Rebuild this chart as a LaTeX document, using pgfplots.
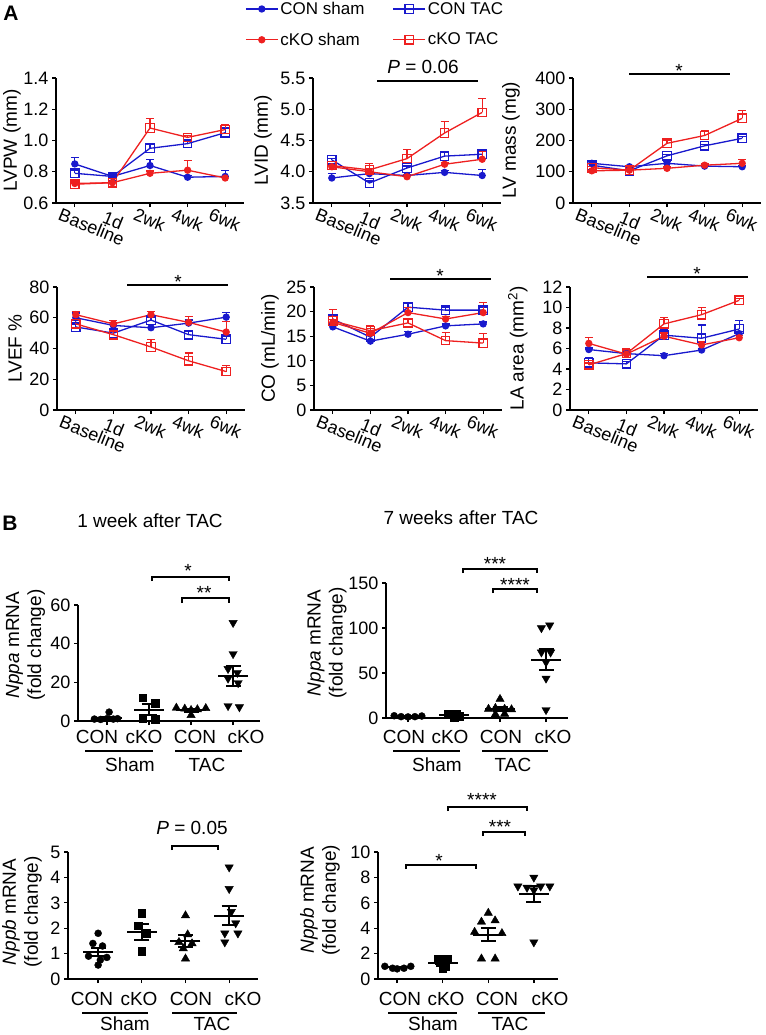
\documentclass[border=0pt]{standalone}
\usepackage{fontspec}
\setmainfont{Liberation Sans}
\usepackage{pgfplots}
\pgfplotsset{compat=1.18}
\definecolor{blueA}{RGB}{25,25,205}
\definecolor{redA}{RGB}{238,32,32}
\newcommand\fsA{\fontsize{17}{20}\selectfont}
\newcommand\fsT{\fontsize{18}{21}\selectfont}
\newcommand\fsB{\fontsize{19}{22}\selectfont}

\pgfplotsset{
  base/.style={scale only axis, axis x line*=bottom, axis y line*=left,
    axis line style={-, line width=1.3pt}, tick align=outside,
    major tick length=4pt, tick style={black, line width=1.3pt},
    clip=false, /pgf/number format/assume math mode=true,
    xticklabel style={font=\fsT}, yticklabel style={font=\fsT},
    ylabel style={font=\fsB, align=center, anchor=center}},
  pA/.style={base, width=188pt, xmin=-0.5, xmax=4.5, xtick={0,1,2,3,4},
    xticklabels={Baseline,\hspace*{7pt}1d,2wk,4wk,6wk},
    xticklabel style={rotate=-22, anchor=north west, xshift=-15pt, yshift=-2pt}},
  errA/.style={error bars/y dir=plus, error bars/y explicit, error bars/error mark=-,
    error bars/error bar style={line width=1.3pt},
    error bars/error mark options={rotate=90, mark size=4pt, line width=1.3pt}},
  sCS/.style={blueA, line width=1.3pt, mark=*, mark size=3pt, mark options={solid, fill=blueA}, errA},
  sCT/.style={blueA, line width=1.3pt, mark=square, mark size=4.2pt, mark options={solid, fill=white}, errA},
  sKS/.style={redA, line width=1.3pt, mark=*, mark size=3pt, mark options={solid, fill=redA}, errA},
  sKT/.style={redA, line width=1.3pt, mark=square, mark size=4.2pt, mark options={solid, fill=white}, errA},
  pB/.style={base, xtick={0,1,2,3}, xticklabels={}, ymin=0},
  pC/.style={black, only marks, mark=*, mark size=3.5pt},
  pS/.style={black, only marks, mark=square*, mark size=3.8pt},
  pU/.style={black, only marks, mark=triangle*, mark size=4.8pt},
  pD/.style={black, only marks, mark=triangle*, mark size=4.8pt, mark options={rotate=180}},
  meanB/.style={black, only marks, mark=-, mark size=15pt, mark options={line width=2pt},
    error bars/y dir=both, error bars/y explicit, error bars/error mark=-,
    error bars/error bar style={line width=2pt, black},
    error bars/error mark options={rotate=90, mark size=7.5pt, line width=2pt, black}},
}

\begin{document}
\begin{tikzpicture}
\path[use as bounding box] (0,0) rectangle (765pt,-1035pt);

% ---------- Panel A, row 1 ----------
\begin{axis}[pA, at={(56pt,-203pt)}, anchor=south west, height=125pt,
  ymin=0.6, ymax=1.4, ytick={0.6,0.8,1.0,1.2,1.4}, yticklabels={0.6,0.8,1.0,1.2,1.4},
  ylabel={LVPW (mm)}, ylabel style={at={(axis description cs:-0.234,0.5)}}]
\addplot[sCS] coordinates {(0,0.85) +- (0,0.04) (1,0.77) +- (0,0.01) (2,0.84) +- (0,0.04) (3,0.765) +- (0,0.01) (4,0.77) +- (0,0.04)};
\addplot[sCT] coordinates {(0,0.79) +- (0,0.02) (1,0.77) +- (0,0.02) (2,0.95) +- (0,0.03) (3,0.98) +- (0,0.02) (4,1.05) +- (0,0.03)};
\addplot[sKS] coordinates {(0,0.725) +- (0,0.01) (1,0.73) +- (0,0.01) (2,0.79) +- (0,0.015) (3,0.81) +- (0,0.06) (4,0.76) +- (0,0.01)};
\addplot[sKT] coordinates {(0,0.72) +- (0,0.01) (1,0.73) +- (0,0.01) (2,1.08) +- (0,0.06) (3,1.02) +- (0,0.01) (4,1.07) +- (0,0.03)};
\end{axis}

\begin{axis}[pA, at={(313pt,-203pt)}, anchor=south west, height=125pt,
  ymin=3.5, ymax=5.5, ytick={3.5,4.0,4.5,5.0,5.5}, yticklabels={3.5,4.0,4.5,5.0,5.5},
  ylabel={LVID (mm)}, ylabel style={at={(axis description cs:-0.266,0.5)}},
  legend columns=2, legend cell align=left,
  legend style={at={(axis description cs:-0.362,1.625)}, anchor=north west, draw=none, fill=none,
    inner sep=0pt, row sep=13pt, /tikz/every even column/.append style={column sep=26pt}},
  legend image code/.code={\draw[mark repeat=2,mark phase=2] plot coordinates {(0pt,0pt) (16pt,0pt) (32pt,0pt)};}]
\addplot[sCS] coordinates {(0,3.9) +- (0,0.07) (1,3.97) +- (0,0.03) (2,3.94) +- (0,0.02) (3,3.99) +- (0,0.03) (4,3.94) +- (0,0.1)};
\addlegendentry{\fsA CON sham}
\addplot[sCT] coordinates {(0,4.19) +- (0,0.02) (1,3.82) +- (0,0.03) (2,4.06) +- (0,0.03) (3,4.25) +- (0,0.07) (4,4.28) +- (0,0.07)};
\addlegendentry{\fsA CON TAC}
\addplot[sKS] coordinates {(0,4.08) +- (0,0.03) (1,4.0) +- (0,0.05) (2,3.92) +- (0,0.03) (3,4.12) +- (0,0.03) (4,4.2) +- (0,0.12)};
\addlegendentry{\fsA cKO sham}
\addplot[sKT] coordinates {(0,4.1) +- (0,0.03) (1,4.03) +- (0,0.1) (2,4.21) +- (0,0.15) (3,4.62) +- (0,0.18) (4,4.95) +- (0,0.22)};
\addlegendentry{\fsA cKO TAC}
\end{axis}

\begin{axis}[pA, at={(573pt,-203pt)}, anchor=south west, height=125pt,
  ymin=0, ymax=400, ytick={0,100,200,300,400},
  ylabel={LV mass (mg)}, ylabel style={at={(axis description cs:-0.33,0.5)}}]
\addplot[sCS] coordinates {(0,127) +- (0,5) (1,116) +- (0,4) (2,127) +- (0,6) (3,118) +- (0,4) (4,116) +- (0,5)};
\addplot[sCT] coordinates {(0,121) +- (0,5) (1,103) +- (0,4) (2,151) +- (0,5) (3,183) +- (0,5) (4,207) +- (0,6)};
\addplot[sKS] coordinates {(0,103) +- (0,4) (1,105) +- (0,3) (2,111) +- (0,4) (3,121) +- (0,4) (4,127) +- (0,12)};
\addplot[sKT] coordinates {(0,113) +- (0,4) (1,105) +- (0,4) (2,191) +- (0,9) (3,216) +- (0,17) (4,271) +- (0,25)};
\end{axis}

% ---------- Panel A, row 2 ----------
\begin{axis}[pA, at={(57pt,-410pt)}, anchor=south west, height=123pt,
  ymin=0, ymax=80, ytick={0,20,40,60,80},
  ylabel={LVEF \%}, ylabel style={at={(axis description cs:-0.223,0.5)}}]
\addplot[sCS] coordinates {(0,60) +- (0,3) (1,55) +- (0,2) (2,53.5) +- (0,2) (3,56.5) +- (0,2) (4,60.4) +- (0,3)};
\addplot[sCT] coordinates {(0,54) +- (0,2) (1,50) +- (0,2) (2,58.5) +- (0,2) (3,49) +- (0,2) (4,46) +- (0,2)};
\addplot[sKS] coordinates {(0,62) +- (0,2) (1,56) +- (0,2) (2,62) +- (0,2) (3,57) +- (0,4) (4,50.7) +- (0,7)};
\addplot[sKT] coordinates {(0,56) +- (0,2) (1,49) +- (0,2) (2,41) +- (0,5) (3,32) +- (0,5) (4,25) +- (0,4)};
\end{axis}

\begin{axis}[pA, at={(314pt,-410pt)}, anchor=south west, height=123pt,
  ymin=0, ymax=25, ytick={0,5,10,15,20,25},
  ylabel={CO (mL/min)}, ylabel style={at={(axis description cs:-0.234,0.5)}}]
\addplot[sCS] coordinates {(0,16.9) +- (0,0.4) (1,14.0) +- (0,0.3) (2,15.4) +- (0,0.5) (3,17.1) +- (0,0.4) (4,17.5) +- (0,0.4)};
\addplot[sCT] coordinates {(0,18.5) +- (0,0.8) (1,14.8) +- (0,0.5) (2,20.9) +- (0,1.0) (3,20.3) +- (0,0.6) (4,20.3) +- (0,0.5)};
\addplot[sKS] coordinates {(0,17.8) +- (0,0.6) (1,15.6) +- (0,1.0) (2,19.8) +- (0,1.0) (3,18.5) +- (0,0.5) (4,19.8) +- (0,2.0)};
\addplot[sKT] coordinates {(0,18.1) +- (0,2.3) (1,16.1) +- (0,1.0) (2,17.7) +- (0,0.8) (3,14.1) +- (0,1.6) (4,13.6) +- (0,2.0)};
\end{axis}

\begin{axis}[pA, at={(570pt,-410pt)}, anchor=south west, height=123pt,
  ymin=0, ymax=12, ytick={0,2,4,6,8,10,12},
  ylabel={LA area (mm\textsuperscript{2})}, ylabel style={at={(axis description cs:-0.277,0.5)}}]
\addplot[sCS] coordinates {(0,5.9) +- (0,0.15) (1,5.5) +- (0,0.15) (2,5.3) +- (0,0.2) (3,5.85) +- (0,0.15) (4,7.45) +- (0,0.2)};
\addplot[sCT] coordinates {(0,4.6) +- (0,0.55) (1,4.5) +- (0,0.2) (2,7.3) +- (0,0.6) (3,7.0) +- (0,1.3) (4,7.9) +- (0,0.8)};
\addplot[sKS] coordinates {(0,6.5) +- (0,0.6) (1,5.45) +- (0,0.4) (2,7.2) +- (0,0.3) (3,6.35) +- (0,0.3) (4,7.05) +- (0,0.2)};
\addplot[sKT] coordinates {(0,4.4) +- (0,0.2) (1,5.5) +- (0,0.5) (2,8.4) +- (0,0.6) (3,9.3) +- (0,0.7) (4,10.7) +- (0,0.2)};
\end{axis}

% ---------- Panel B ----------
\begin{axis}[pB, at={(78pt,-721pt)}, anchor=south west, width=182pt, height=116pt,
  xmin=-0.69, xmax=3.64, ymax=60, ytick={0,20,40,60},
  ylabel={\textit{Nppa} mRNA\\(fold change)}, ylabel style={at={(axis description cs:-0.288,0.655)}}]
\addplot[pC] coordinates {(-0.3,1.0) (-0.15,0.8) (0,1.2) (0.15,1.0) (0.25,1.2) (0.05,4.6)};
\addplot[pS] coordinates {(0.85,12) (1.15,9.3) (0.85,1.5) (1.15,1.0)};
\addplot[pU] coordinates {(1.65,6.8) (1.85,6.3) (2,5.6) (2.15,6.0) (2.35,6.6) (2,3.0)};
\addplot[pD] coordinates {(3,50.8) (3,34.7) (2.88,27) (3.1,25) (2.88,22) (3.12,19.7) (2.88,7.8) (3.15,7.2)};
\addplot[meanB] coordinates {(0,1.6) +- (0,0.6) (1,5.9) +- (0,2.7) (2,5.5) +- (0,0.6) (3,23.2) +- (0,5)};
\end{axis}

\begin{axis}[pB, at={(386pt,-718pt)}, anchor=south west, width=182pt, height=135pt,
  xmin=-0.478, xmax=3.478, ymax=150, ytick={0,50,100,150},
  ylabel={\textit{Nppa} mRNA\\(fold change)}, ylabel style={at={(axis description cs:-0.324,0.556)}}]
\addplot[pC] coordinates {(-0.3,2.5) (-0.15,1.5) (0,1.2) (0.15,1.5) (0.3,2.2)};
\addplot[pS] coordinates {(0.88,4.5) (1.05,5) (1.12,2) (1,0.8)};
\addplot[pU] coordinates {(2,21) (1.75,10) (1.9,11) (2.1,10) (2.25,9.5) (1.9,4) (2.1,4.5)};
\addplot[pD] coordinates {(2.9,100) (3.08,103) (2.9,73) (3.1,73) (3,62) (3,44) (3,9)};
\addplot[meanB] coordinates {(0,1.8) +- (0,0.25) (1,3.1) +- (0,1.0) (2,10) +- (0,2) (3,65) +- (0,12)};
\end{axis}

\begin{axis}[pB, at={(68pt,-979pt)}, anchor=south west, width=190pt, height=127pt,
  xmin=-0.69, xmax=3.66, ymax=5, ytick={0,1,2,3,4,5},
  ylabel={\textit{Nppb} mRNA\\(fold change)}, ylabel style={at={(axis description cs:-0.242,0.528)}}]
\addplot[pC] coordinates {(0,1.8) (-0.12,1.4) (0.1,1.3) (-0.22,0.9) (0.2,0.85) (0.05,0.75) (0,0.55)};
\addplot[pS] coordinates {(1,2.6) (0.92,2.1) (1.1,1.8) (1,1.1)};
\addplot[pU] coordinates {(2,2.5) (2.05,1.75) (1.85,1.45) (2.15,1.4) (1.95,1.2) (2,0.8)};
\addplot[pD] coordinates {(3,4.4) (3,3.55) (3.05,2.65) (3.15,2.2) (2.9,1.8) (3.2,1.8) (2.9,1.45)};
\addplot[meanB] coordinates {(0,1.08) +- (0,0.16) (1,1.85) +- (0,0.3) (2,1.5) +- (0,0.22) (3,2.5) +- (0,0.38)};
\end{axis}

\begin{axis}[pB, at={(378pt,-979pt)}, anchor=south west, width=180pt, height=127pt,
  xmin=-0.42, xmax=3.53, ymax=10, ytick={0,2,4,6,8,10},
  ylabel={\textit{Nppb} mRNA\\(fold change)}, ylabel style={at={(axis description cs:-0.322,0.62)}}]
\addplot[pC] coordinates {(-0.27,1.0) (-0.1,0.85) (0,0.8) (0.15,0.85) (0.3,1.0)};
\addplot[pS] coordinates {(0.9,1.6) (1.1,1.6) (0.95,1.3) (1.05,1.0) (1,0.8)};
\addplot[pU] coordinates {(2,5.2) (1.85,4.5) (2.15,4.6) (1.7,3.7) (2.3,3.6) (1.85,1.6) (2.15,1.6)};
\addplot[pD] coordinates {(3,8.0) (2.65,7.3) (2.85,7.2) (3.15,7.3) (3.35,7.3) (3,7.0) (3,2.9)};
\addplot[meanB] coordinates {(0,0.92) +- (0,0.05) (1,1.3) +- (0,0.15) (2,3.5) +- (0,0.5) (3,6.7) +- (0,0.65)};
\end{axis}

% ---------- annotations ----------
\begin{scope}[x=1pt, y=-1pt, font=\fsB, line width=1.3pt]
\node[font=\bfseries\fontsize{21}{24}\selectfont] at (11,13) {A};
\node[font=\bfseries\fontsize{21}{24}\selectfont] at (10,523) {B};
% significance bars, panel A
\draw[line width=2pt] (377,81) -- (478,81);
\node at (423,67) {\textit{P} = 0.06};
\draw[line width=2pt] (629,74) -- (730,74);
\node at (679,71) {*};
\draw[line width=2pt] (127,285) -- (228,285);
\node at (178,282) {*};
\draw[line width=2pt] (390,279) -- (491,279);
\node at (440,276) {*};
\draw[line width=2pt] (647,277) -- (748,277);
\node at (697,274) {*};
% titles
\node at (150,521) {1 week after TAC};
\node at (461,518) {7 weeks after TAC};
% Nppa 1 wk
\foreach \x/\t in {97/CON,144/cKO,195/CON,246/cKO} \node at (\x,737) {\t};
\draw (85,751) -- (153,751); \draw (175,751) -- (242,751);
\node at (130,765) {Sham}; \node at (207,765) {TAC};
\draw (152,581) -- (152,577) -- (229,577) -- (229,581); \node at (188,571) {*};
\draw (182,603) -- (182,598) -- (229,598) -- (229,603); \node at (204,593) {**};
% Nppa 7 wk
\foreach \x/\t in {404/CON,450/cKO,501/CON,553/cKO} \node at (\x,737) {\t};
\draw (393,751) -- (460,751); \draw (482,751) -- (548,751);
\node at (437,765) {Sham}; \node at (513,765) {TAC};
\draw (463,573) -- (463,569) -- (537,569) -- (537,573); \node at (495,564) {***};
\draw (493,593) -- (493,589) -- (537,589) -- (537,593); \node at (515,585) {****};
% Nppb 1 wk
\foreach \x/\t in {92/CON,139/cKO,191/CON,243/cKO} \node at (\x,999) {\t};
\draw (82,1013) -- (148,1013); \draw (172,1013) -- (237,1013);
\node at (125,1024) {Sham}; \node at (212,1024) {TAC};
\node at (192,828) {\textit{P} = 0.05};
\draw (172,850) -- (172,846) -- (218,846) -- (218,850);
% Nppb 7 wk
\foreach \x/\t in {400/CON,446/cKO,497/CON,550/cKO} \node at (\x,999) {\t};
\draw (388,1013) -- (457,1013); \draw (478,1013) -- (545,1013);
\node at (433,1024) {Sham}; \node at (510,1024) {TAC};
\draw (406,869) -- (406,865) -- (476,865) -- (476,869); \node at (439,861) {*};
\draw (448,811) -- (448,807) -- (527,807) -- (527,811); \node at (482,800) {****};
\draw (483,836) -- (483,832) -- (525,832) -- (525,836); \node at (500,827) {***};
\end{scope}
\end{tikzpicture}
\end{document}
